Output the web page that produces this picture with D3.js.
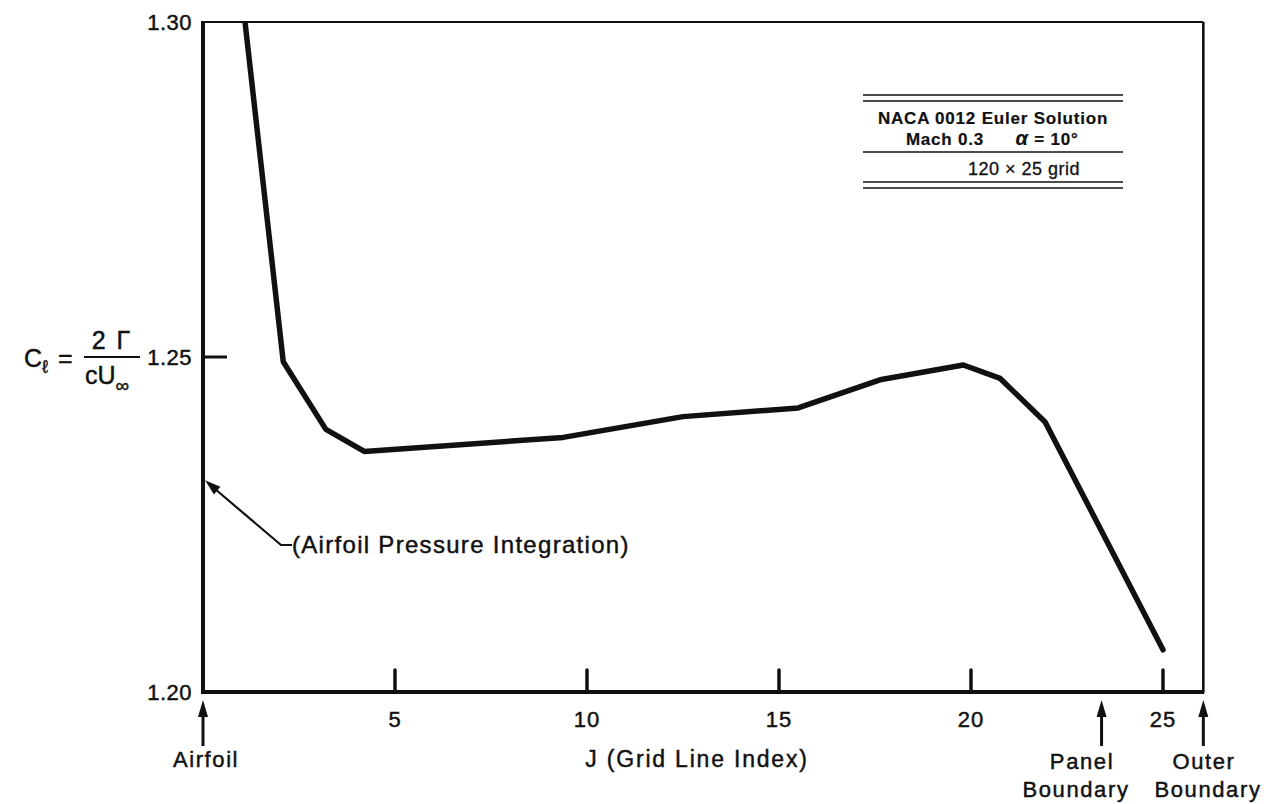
<!DOCTYPE html>
<html>
<head>
<meta charset="utf-8">
<script src="https://cdn.jsdelivr.net/npm/d3@7"></script>
<style>
  html, body { margin: 0; padding: 0; background: #fff; }
  svg text { font-family: "Liberation Sans", Arial, Helvetica, sans-serif; fill: #111; stroke: #111; stroke-width: 0.45; }
</style>
</head>
<body>
<svg id="chart" width="1266" height="804"></svg>
<script>
// ---- data ----
const gridIndex = [1.0, 2.09, 3.2, 4.2, 9.38, 12.5, 15.5, 17.63, 19.8, 20.76, 21.93, 25.0];
const liftCoef  = [1.3048, 1.2493, 1.2392, 1.2359, 1.2380, 1.2411, 1.2424, 1.2466, 1.2488, 1.2468, 1.2403, 1.2063];
const xTicks = [5, 10, 15, 20, 25];
const yTickLabels = ["1.20", "1.25", "1.30"];
const yTickValues = [1.20, 1.25, 1.30];
const boundaryMarks = [
  { j: 0, lines: ["Airfoil"] },
  { j: 23.4, lines: ["Panel", "Boundary"] },
  { j: 26.05, lines: ["Outer", "Boundary"] }
];
const legendLines = ["NACA 0012 Euler Solution", "Mach 0.3", "α = 10°", "120 × 25 grid"];
const annotationText = "(Airfoil Pressure Integration)";
const annotationValue = 1.2316;

const svg = d3.select("#chart");
const x = d3.scaleLinear().domain([0, 25]).range([203, 1163]);
const y = d3.scaleLinear().domain([1.20, 1.30]).range([692, 22]);
const xMax = 26.05;

// clip
svg.append("defs").append("clipPath").attr("id", "plotclip")
  .append("rect").attr("x", x(0)).attr("y", y(1.30)).attr("width", x(xMax) - x(0)).attr("height", y(1.20) - y(1.30));

// frame
const frame = svg.append("g").attr("stroke", "#111").attr("fill", "none");
frame.append("line").attr("x1", x(0) - 2).attr("x2", x(xMax)).attr("y1", y(1.30)).attr("y2", y(1.30)).attr("stroke-width", 2.2);
frame.append("line").attr("x1", x(xMax)).attr("x2", x(xMax)).attr("y1", y(1.30)).attr("y2", y(1.20)).attr("stroke-width", 2.6);
frame.append("line").attr("x1", x(0)).attr("x2", x(0)).attr("y1", y(1.30) - 1).attr("y2", y(1.20) + 2).attr("stroke-width", 4);
frame.append("line").attr("x1", x(0) - 2).attr("x2", x(xMax) + 1).attr("y1", y(1.20)).attr("y2", y(1.20)).attr("stroke-width", 4);

// x ticks (inward)
svg.append("g").selectAll("line").data(xTicks).join("line")
  .attr("x1", d => x(d)).attr("x2", d => x(d))
  .attr("y1", y(1.20)).attr("y2", y(1.20) - 22)
  .attr("stroke", "#111").attr("stroke-width", 3.5).attr("stroke-linecap", "round");
svg.append("g").selectAll("text").data(xTicks).join("text")
  .attr("x", d => x(d)).attr("y", y(1.20) + 35)
  .attr("text-anchor", "middle").attr("font-size", 22).attr("letter-spacing", 1)
  .text(d => d);

// y ticks
svg.append("line").attr("x1", x(0)).attr("x2", x(0) + 24).attr("y1", y(1.25)).attr("y2", y(1.25))
  .attr("stroke", "#111").attr("stroke-width", 3);
svg.append("g").selectAll("text").data(yTickValues).join("text")
  .attr("x", 192).attr("y", d => y(d) + 8)
  .attr("text-anchor", "end").attr("font-size", 22).attr("letter-spacing", 0.5)
  .text((d, i) => yTickLabels[i]);

// y axis label: C_l = 2Γ / cU∞
const yl = svg.append("g").attr("transform", `translate(0, ${y(1.25)})`);
const cl = yl.append("text").attr("x", 24).attr("y", 10).attr("font-size", 25);
cl.append("tspan").text("C");
cl.append("tspan").attr("font-size", 18).attr("dy", 6).text("ℓ");
yl.append("text").attr("x", 58).attr("y", 10).attr("font-size", 25).text("=");
yl.append("text").attr("x", 112).attr("y", -8).attr("text-anchor", "middle").attr("font-size", 25).attr("letter-spacing", 2).text("2 Γ");
yl.append("line").attr("x1", 84).attr("x2", 140).attr("y1", 0).attr("y2", 0).attr("stroke", "#111").attr("stroke-width", 2.2);
const den = yl.append("text").attr("x", 85).attr("y", 27).attr("font-size", 25);
den.append("tspan").text("cU");
den.append("tspan").attr("font-size", 19).attr("dy", 8).text("∞");

// curve
const pts = gridIndex.map((j, i) => [j, liftCoef[i]]);
svg.append("path").datum(pts)
  .attr("clip-path", "url(#plotclip)")
  .attr("d", d3.line().x(d => x(d[0])).y(d => y(d[1])))
  .attr("fill", "none").attr("stroke", "#111").attr("stroke-width", 5.5)
  .attr("stroke-linejoin", "round").attr("stroke-linecap", "round");

// axis title
svg.append("text").attr("x", 697).attr("y", 767).attr("text-anchor", "middle")
  .attr("font-size", 23).attr("letter-spacing", 1.8).text("J (Grid Line Index)");

// boundary arrows
function arrowUp(g, cx, yTail, yTip) {
  g.append("line").attr("x1", cx).attr("x2", cx).attr("y1", yTail).attr("y2", yTip + 10)
    .attr("stroke", "#111").attr("stroke-width", 3);
  g.append("path").attr("d", `M${cx},${yTip} L${cx - 5},${yTip + 17} L${cx + 5},${yTip + 17} Z`).attr("fill", "#111");
}
const bm = svg.append("g");
boundaryMarks.forEach(b => {
  arrowUp(bm, x(b.j), 746, 700);
});
const labStyle = t => t.attr("text-anchor", "middle").attr("font-size", 22).attr("letter-spacing", 1.6);
labStyle(bm.append("text").attr("x", x(0) + 3).attr("y", 767)).text(boundaryMarks[0].lines[0]);
labStyle(bm.append("text").attr("x", 1082).attr("y", 769)).text(boundaryMarks[1].lines[0]);
labStyle(bm.append("text").attr("x", 1076).attr("y", 797)).text(boundaryMarks[1].lines[1]);
labStyle(bm.append("text").attr("x", 1204).attr("y", 769)).text(boundaryMarks[2].lines[0]);
labStyle(bm.append("text").attr("x", 1208).attr("y", 797)).text(boundaryMarks[2].lines[1]);

// annotation leader
const tipX = x(0) + 2, tipY = y(annotationValue);
const kneeX = 281, kneeY = 545;
const ann = svg.append("g");
ann.append("path").attr("d", `M${tipX + 8},${tipY + 7} L${kneeX},${kneeY} L${kneeX + 11},${kneeY}`)
  .attr("fill", "none").attr("stroke", "#111").attr("stroke-width", 2.2);
{
  const ang = Math.atan2(kneeY - tipY, kneeX - tipX);
  const L = 16, W = 5;
  const bx = tipX + L * Math.cos(ang), by = tipY + L * Math.sin(ang);
  const px = -Math.sin(ang) * W, py = Math.cos(ang) * W;
  ann.append("path").attr("d", `M${tipX},${tipY} L${bx + px},${by + py} L${bx - px},${by - py} Z`).attr("fill", "#111");
}
ann.append("text").attr("x", kneeX + 11).attr("y", kneeY + 8).attr("font-size", 24).attr("letter-spacing", 1.3)
  .text(annotationText);

// legend block
const lg = svg.append("g");
const lx1 = 863, lx2 = 1123;
[95, 101, 152, 182, 188].forEach(yy => {
  lg.append("line").attr("x1", lx1).attr("x2", lx2).attr("y1", yy).attr("y2", yy).attr("stroke", "#111").attr("stroke-width", 1.6);
});
const lgBold = t => t.attr("text-anchor", "middle").attr("font-size", 17).attr("font-weight", "bold").attr("letter-spacing", 0.8).style("stroke-width", 0.2);
lgBold(lg.append("text").attr("x", 993).attr("y", 124)).text(legendLines[0]);
lgBold(lg.append("text").attr("x", 945).attr("y", 145)).text(legendLines[1]);
const al = lgBold(lg.append("text").attr("x", 1047).attr("y", 145));
al.append("tspan").attr("font-style", "italic").attr("font-size", 20).text("α");
al.append("tspan").text(" = 10°");
lg.append("text").attr("x", 1024).attr("y", 175).attr("text-anchor", "middle")
  .attr("font-size", 18).attr("letter-spacing", 0.5).style("stroke-width", 0.3).text(legendLines[3]);
</script>
</body>
</html>
